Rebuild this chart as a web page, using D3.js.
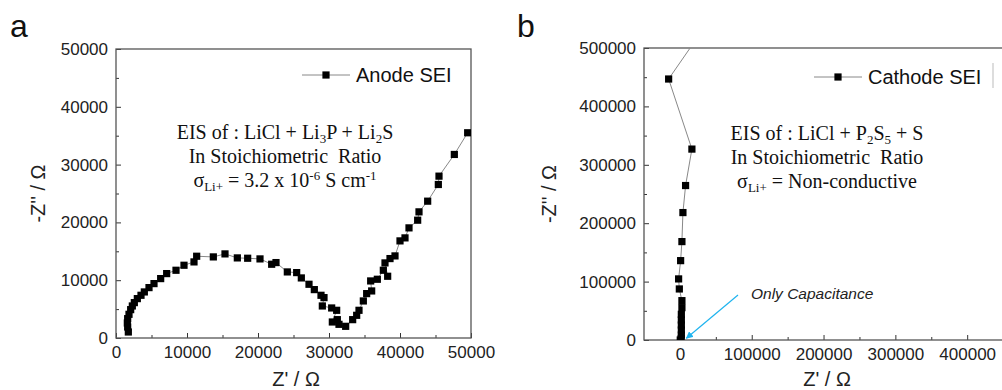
<!DOCTYPE html>
<html>
<head>
<meta charset="utf-8">
<script src="https://cdn.jsdelivr.net/npm/d3@7"></script>
<style>
  body { margin: 0; background: #fff; }
  svg { display: block; }
  .tick text { font-family: "Liberation Sans", Arial, sans-serif; font-size: 17px; fill: #222; }
  .ann { font-family: "Liberation Serif", "Times New Roman", serif; font-size: 20px; fill: #111; }
</style>
</head>
<body>
<svg id="chart" width="1002" height="390"></svg>
<script>
// anode SEI (panel a) : Z' and -Z'' in ohm
var anodeRe = [1737, 1643, 1596, 1643, 1831, 2066, 2300, 2582, 3005, 3521, 3991, 4648, 5352, 6291, 7136, 8451, 9577, 10986, 11362, 13709, 15352, 17089, 18545, 20282, 21925, 22535, 24131, 25446, 26103, 27183, 27934, 28873, 29296, 29061, 30376, 31080, 30470, 31174, 31408, 32347, 33333, 33897, 34225, 34836, 35305, 36009, 35869, 36808, 37653, 38263, 37887, 38592, 39296, 40000, 40704, 41268, 42488, 42676, 43897, 45399, 45493, 47653, 49531];
var anodeIm = [1039, 1905, 2598, 3349, 4099, 4907, 5543, 6120, 6813, 7390, 7968, 8718, 9411, 10277, 11143, 11720, 12586, 13164, 14145, 14030, 14550, 13857, 13799, 13684, 12760, 13049, 11432, 11316, 10393, 9296, 8372, 7390, 6986, 5543, 5196, 4792, 2771, 3175, 2367, 2021, 3175, 3926, 4792, 6409, 7679, 8141, 9873, 10162, 11721, 10682, 12991, 13741, 14203, 16801, 17321, 19053, 20381, 21824, 23672, 26559, 28002, 31755, 35508];

// cathode SEI (panel b)
var cathodeRe = [500, 1800, 2000, 2000, 2000, 2000, 2000, 2800, 2800, -800, -1800, 1000, 2800, 4200, 7900, 16700, -15700, 48000];
var cathodeIm = [0, 2900, 8600, 17100, 25700, 34300, 44000, 55400, 67400, 87400, 104600, 135900, 168500, 218200, 264500, 326900, 446900, 560000];

var anodeTicksX = [0, 10000, 20000, 30000, 40000, 50000];
var anodeTicksY = [0, 10000, 20000, 30000, 40000, 50000];
var cathodeTicksX = [0, 100000, 200000, 300000, 400000];
var cathodeTicksY = [0, 100000, 200000, 300000, 400000, 500000];

var svg = d3.select("#chart");
var font = "'Liberation Sans', Arial, sans-serif";

function panel(opt) {
  var x = d3.scaleLinear().domain(opt.xDom).range([opt.x0, opt.x1]);
  var y = d3.scaleLinear().domain(opt.yDom).range([opt.yBot, opt.yTop]);
  var g = svg.append("g");

  var clipId = "clip" + opt.letter;
  svg.append("clipPath").attr("id", clipId)
    .append("rect")
    .attr("x", opt.x0).attr("y", opt.yTop)
    .attr("width", opt.x1 - opt.x0).attr("height", opt.yBot - opt.yTop);

  // minor ticks
  g.append("g").attr("transform", "translate(0," + opt.yBot + ")")
    .call(d3.axisBottom(x).tickValues(opt.minorX).tickSize(-3).tickFormat(""))
    .call(function(a) { a.select(".domain").remove(); a.selectAll("line").attr("stroke", "#333"); });
  g.append("g").attr("transform", "translate(" + opt.x0 + ",0)")
    .call(d3.axisLeft(y).tickValues(opt.minorY).tickSize(-3).tickFormat(""))
    .call(function(a) { a.select(".domain").remove(); a.selectAll("line").attr("stroke", "#333"); });

  // major ticks + labels
  g.append("g").attr("transform", "translate(0," + opt.yBot + ")")
    .call(d3.axisBottom(x).tickValues(opt.ticksX).tickSize(-5).tickPadding(8).tickFormat(d3.format("d")))
    .call(function(a) { a.select(".domain").remove(); a.selectAll("line").attr("stroke", "#333"); });
  g.append("g").attr("transform", "translate(" + opt.x0 + ",0)")
    .call(d3.axisLeft(y).tickValues(opt.ticksY).tickSize(-5).tickPadding(8).tickFormat(d3.format("d")))
    .call(function(a) { a.select(".domain").remove(); a.selectAll("line").attr("stroke", "#333"); });

  // frame
  g.append("rect")
    .attr("x", opt.x0).attr("y", opt.yTop)
    .attr("width", opt.x1 - opt.x0).attr("height", opt.yBot - opt.yTop)
    .attr("fill", "none").attr("stroke", "#555").attr("stroke-width", 1.3);

  // data
  var pts = opt.re.map(function(d, i) { return [d, opt.im[i]]; });
  var line = d3.line().x(function(d) { return x(d[0]); }).y(function(d) { return y(d[1]); });
  var dg = g.append("g").attr("clip-path", "url(#" + clipId + ")");
  dg.append("path").datum(pts).attr("d", line)
    .attr("fill", "none").attr("stroke", "#888").attr("stroke-width", 1);
  dg.selectAll("rect.pt").data(pts).enter().append("rect")
    .attr("class", "pt")
    .attr("x", function(d) { return x(d[0]) - 3.6; })
    .attr("y", function(d) { return y(d[1]) - 3.6; })
    .attr("width", 7.2).attr("height", 7.2)
    .attr("fill", "#000");

  // panel letter
  g.append("text").attr("x", opt.letterX).attr("y", 37)
    .attr("font-family", font).attr("font-size", 32).attr("fill", "#111")
    .text(opt.letter);

  // axis titles
  g.append("text")
    .attr("x", opt.xTitleX).attr("y", 386)
    .attr("text-anchor", "middle")
    .attr("font-family", font).attr("font-size", 20).attr("fill", "#222")
    .text("Z' / \u03A9");
  g.append("text")
    .attr("transform", "translate(" + opt.yTitleX + "," + ((opt.yTop + opt.yBot) / 2) + ") rotate(-90)")
    .attr("text-anchor", "middle")
    .attr("font-family", font).attr("font-size", 20).attr("fill", "#222")
    .text("-Z'' / \u03A9");

  // legend
  var lg = g.append("g");
  lg.append("line").attr("x1", opt.legX).attr("x2", opt.legX + 48)
    .attr("y1", opt.legY).attr("y2", opt.legY)
    .attr("stroke", "#888").attr("stroke-width", 1);
  lg.append("rect").attr("x", opt.legX + 24 - 3.6).attr("y", opt.legY - 3.6)
    .attr("width", 7.2).attr("height", 7.2).attr("fill", "#000");
  lg.append("text").attr("x", opt.legX + 54).attr("y", opt.legY + 7)
    .attr("font-family", font).attr("font-size", 20).attr("fill", "#111")
    .text(opt.legend);

  return { g: g, x: x, y: y };
}

var a = panel({
  letter: "a", letterX: 10,
  x0: 116, x1: 471, yTop: 49, yBot: 338,
  xDom: [0, 50000], yDom: [0, 50000],
  ticksX: anodeTicksX, ticksY: anodeTicksY,
  minorX: [5000, 15000, 25000, 35000, 45000],
  minorY: [5000, 15000, 25000, 35000, 45000],
  re: anodeRe, im: anodeIm,
  xTitleX: 296, yTitleX: 45,
  legX: 302, legY: 75, legend: "Anode SEI"
});

var b = panel({
  letter: "b", letterX: 517,
  x0: 644, x1: 1039, yTop: 48, yBot: 340,
  xDom: [-50000, 500000], yDom: [0, 500000],
  ticksX: cathodeTicksX, ticksY: cathodeTicksY,
  minorX: [50000, 150000, 250000, 350000, 450000],
  minorY: [50000, 150000, 250000, 350000, 450000],
  re: cathodeRe, im: cathodeIm,
  xTitleX: 827, yTitleX: 556,
  legX: 814, legY: 77, legend: "Cathode SEI"
});

// legend box edge on panel b
b.g.append("line").attr("x1", 993).attr("x2", 993).attr("y1", 63).attr("y2", 88)
  .attr("stroke", "#bbb").attr("stroke-width", 1);

// annotations: parts are [text, shift] with shift "sub" / "sup"
function richText(t, parts) {
  var cur = 0;
  parts.forEach(function(p) {
    var target = p[1] === "sub" ? 4 : p[1] === "sup" ? -7 : 0;
    var s = t.append("tspan").attr("dy", target - cur).text(p[0]);
    if (p[1]) s.attr("font-size", 13);
    cur = target;
  });
}

function annot(cx, y0, first, last) {
  richText(svg.append("text").attr("class", "ann").attr("x", cx).attr("y", y0).attr("text-anchor", "middle"), first);
  svg.append("text").attr("class", "ann").attr("x", cx).attr("y", y0 + 24)
    .attr("text-anchor", "middle").attr("xml:space", "preserve")
    .text("In Stoichiometric  Ratio");
  richText(svg.append("text").attr("class", "ann").attr("x", cx).attr("y", y0 + 48).attr("text-anchor", "middle"), last);
}

annot(285, 139,
  [["EIS of : LiCl + Li"], ["3", "sub"], ["P + Li"], ["2", "sub"], ["S"]],
  [["\u03C3"], ["Li+", "sub"], [" = 3.2 x 10"], ["-6", "sup"], [" S cm"], ["-1", "sup"]]);

annot(827, 140,
  [["EIS of : LiCl + P"], ["2", "sub"], ["S"], ["5", "sub"], [" + S"]],
  [["\u03C3"], ["Li+", "sub"], [" = Non-conductive"]]);

// "Only Capacitance" arrow
svg.append("defs").append("marker")
  .attr("id", "arr").attr("viewBox", "0 0 10 10").attr("refX", 9).attr("refY", 5)
  .attr("markerWidth", 6).attr("markerHeight", 6).attr("orient", "auto")
  .append("path").attr("d", "M0,0 L10,5 L0,10 z").attr("fill", "#1fb4ef");
svg.append("line")
  .attr("x1", 738).attr("y1", 295)
  .attr("x2", b.x(9000)).attr("y2", b.y(3000))
  .attr("stroke", "#1fb4ef").attr("stroke-width", 1.2)
  .attr("marker-end", "url(#arr)");
svg.append("text").attr("x", 751).attr("y", 299)
  .attr("font-family", font).attr("font-size", 15.5).attr("font-style", "italic").attr("fill", "#222")
  .text("Only Capacitance");
</script>
</body>
</html>
